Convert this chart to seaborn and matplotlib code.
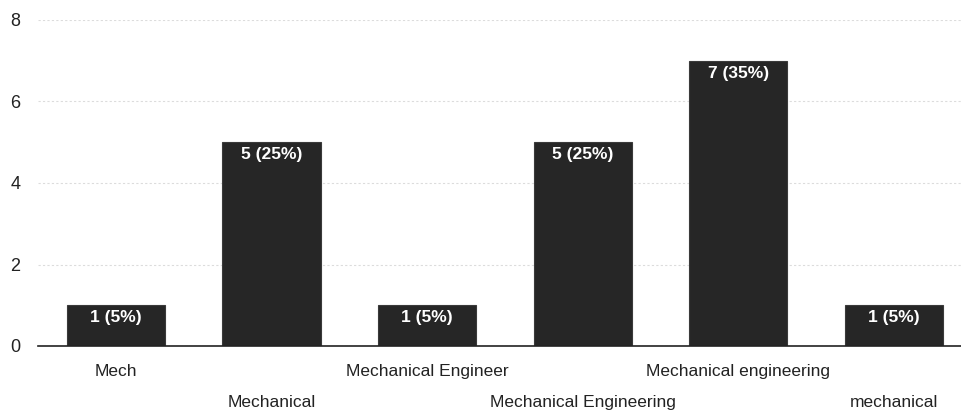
import matplotlib
matplotlib.use("Agg")
import matplotlib.pyplot as plt
import seaborn as sns
import pandas as pd
from matplotlib import font_manager

categories = ["Mech", "Mechanical", "Mechanical Engineer", "Mechanical Engineering",
              "Mechanical engineering", "mechanical"]
counts = [1, 5, 1, 5, 7, 1]
percents = [5, 25, 5, 25, 35, 5]
yticks = [0, 2, 4, 6, 8]

sns.set_theme(style="white")
names = {f.name for f in font_manager.fontManager.ttflist}
fam = "Liberation Sans Narrow" if "Liberation Sans Narrow" in names else "Liberation Sans"
plt.rcParams['font.family'] = [fam, 'DejaVu Sans']

df = pd.DataFrame({"cat": categories, "count": counts})

fig = plt.figure(figsize=(9.61, 4.17), dpi=100)
ax = fig.add_axes([38/961, 71/417, 923/961, (397-71)/417])
sns.barplot(data=df, x="cat", y="count", order=categories, color="#262626",
            saturation=1, width=0.63, ax=ax, edgecolor="#3a3a3a", linewidth=0.8)

ax.set_ylim(0, 8)
ax.set_xlim(-0.5, 5.43)
ax.set_yticks(yticks)
ax.set_yticklabels([str(t) for t in yticks], fontsize=13, color="#222222")
ax.yaxis.grid(True, color="#dcdcdc", linestyle=(0, (2, 2)), linewidth=0.8)
ax.set_axisbelow(True)

ax.set_xticks(range(len(categories)))
ax.set_xticklabels(categories, fontsize=12.5, color="#222222")
ax.tick_params(axis="x", length=0)
for i, tick in enumerate(ax.xaxis.get_major_ticks()):
    tick.set_pad(35 if i % 2 else 13)
ax.tick_params(axis="y", length=0, pad=20)
for lab in ax.get_yticklabels():
    lab.set_horizontalalignment("left")

for s in ["top", "right", "left"]:
    ax.spines[s].set_visible(False)
ax.spines["bottom"].set_color("#222222")
ax.spines["bottom"].set_linewidth(1.2)
ax.set_xlabel("")
ax.set_ylabel("")

for i, (c, p) in enumerate(zip(counts, percents)):
    ax.text(i, c - 0.12, f"{c} ({p}%)", ha="center", va="top", color="white",
            fontsize=12.5, fontweight="bold")

fig.savefig("out.png", dpi=100)
